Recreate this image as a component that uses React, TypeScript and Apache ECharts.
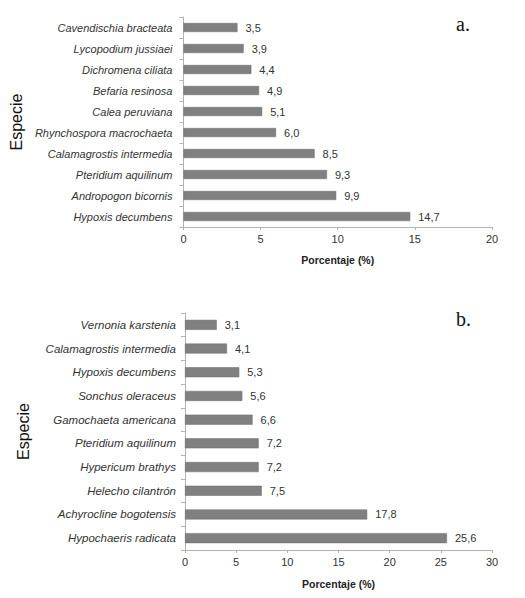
import * as echarts from 'echarts';
import { useEffect, useRef } from 'react';

// panel a
const speciesA = [
  'Cavendischia bracteata',
  'Lycopodium jussiaei',
  'Dichromena ciliata',
  'Befaria resinosa',
  'Calea peruviana',
  'Rhynchospora macrochaeta',
  'Calamagrostis intermedia',
  'Pteridium aquilinum',
  'Andropogon bicornis',
  'Hypoxis decumbens',
];
const valuesA = [3.5, 3.9, 4.4, 4.9, 5.1, 6.0, 8.5, 9.3, 9.9, 14.7];

// panel b
const speciesB = [
  'Vernonia karstenia',
  'Calamagrostis intermedia',
  'Hypoxis decumbens',
  'Sonchus oleraceus',
  'Gamochaeta americana',
  'Pteridium aquilinum',
  'Hypericum brathys',
  'Helecho cilantrón',
  'Achyrocline bogotensis',
  'Hypochaeris radicata',
];
const valuesB = [3.1, 4.1, 5.3, 5.6, 6.6, 7.2, 7.2, 7.5, 17.8, 25.6];

const font = 'Liberation Sans, Arial, sans-serif';
const axisColor = '#b3b3b3';

const fmt = (v: number) => v.toFixed(1).replace('.', ',');

const xAxisOf = (gridIndex: number, max: number, nameGap: number) => ({
  type: 'value',
  gridIndex,
  min: 0,
  max,
  interval: 5,
  name: 'Porcentaje (%)',
  nameLocation: 'middle',
  nameGap,
  nameTextStyle: { fontFamily: font, fontWeight: 'bold', fontSize: 10.5, color: '#222' },
  splitLine: { show: false },
  axisLine: { show: true, lineStyle: { color: axisColor } },
  axisTick: { show: true, length: 3, lineStyle: { color: axisColor } },
  axisLabel: { fontFamily: font, fontSize: 11, color: '#333', margin: 6 },
});

const yAxisOf = (gridIndex: number, data: string[], nameGap: number, size: number, margin: number) => ({
  type: 'category',
  gridIndex,
  data,
  inverse: true,
  name: 'Especie',
  nameLocation: 'middle',
  nameGap,
  nameTextStyle: { fontFamily: font, fontSize: 16, color: '#111' },
  axisLine: { show: true, lineStyle: { color: axisColor } },
  axisTick: { show: true, length: 4, lineStyle: { color: axisColor } },
  axisLabel: { fontFamily: font, fontStyle: 'italic', fontSize: size, color: '#333', margin },
});

const seriesOf = (idx: number, data: number[], barWidth: number) => ({
  type: 'bar',
  xAxisIndex: idx,
  yAxisIndex: idx,
  data,
  barWidth,
  itemStyle: { color: '#808080', borderColor: '#6a6a6a', borderWidth: 0.5 },
  label: {
    show: true,
    position: 'right',
    distance: 8,
    fontFamily: font,
    fontSize: 11,
    color: '#333',
    formatter: (p: any) => fmt(p.value),
  },
});

const App = () => {
  const chartRef = useRef<HTMLDivElement>(null);

  useEffect(() => {
    document.body.style.margin = '0';
    if (chartRef.current === null) return;
    const chart = echarts.init(chartRef.current, undefined, { renderer: 'svg' });

    chart.setOption({
      animation: false,
      backgroundColor: '#fff',
      grid: [
        { left: 177, top: 17, width: 315, height: 210 },
        { left: 185, top: 313, width: 307, height: 237 },
      ],
      xAxis: [xAxisOf(0, 20, 27), xAxisOf(1, 30, 28)],
      yAxis: [yAxisOf(0, speciesA, 152, 11, 11), yAxisOf(1, speciesB, 154, 11.5, 9)],
      series: [seriesOf(0, valuesA, 9), seriesOf(1, valuesB, 10)],
      graphic: [
        {
          type: 'text',
          left: 456,
          top: 14,
          style: { text: 'a.', font: '20px "Liberation Serif", serif', fill: '#111' },
        },
        {
          type: 'text',
          left: 456,
          top: 309,
          style: { text: 'b.', font: '20px "Liberation Serif", serif', fill: '#111' },
        },
      ],
    });

    return () => {
      chart.dispose();
    };
  }, []);

  return <div ref={chartRef} style={{ width: 525, height: 598 }}></div>;
};

export default App;
